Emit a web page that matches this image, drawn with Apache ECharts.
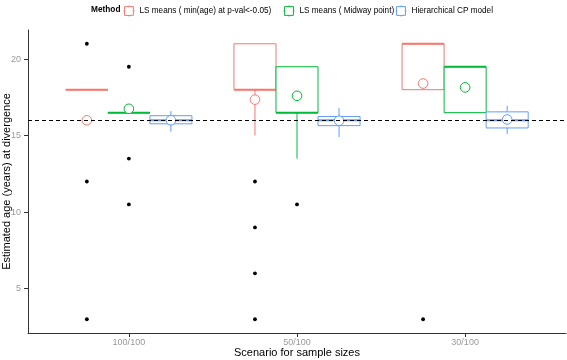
<!DOCTYPE html>
<html>
<head>
<meta charset="utf-8">
<script src="https://cdn.jsdelivr.net/npm/echarts@6/dist/echarts.min.js"></script>
<style>
html, body { margin: 0; padding: 0; background: #fff; }
#main { width: 567px; height: 360px; }
</style>
</head>
<body>
<div id="main"></div>
<script>
var categories = ['100/100', '50/100', '30/100'];
var methodNames = ['LS means ( min(age) at p-val<-0.05)', 'LS means ( Midway point)', 'Hierarchical CP model'];
var methodColors = ['#F8766D', '#00BA38', '#619CFF'];
var yTicks = [5, 10, 15, 20];
var refAge = 16;

// box stats per scenario: [min, q1, median, q3, max]
var lsMinStats = [[18, 18, 18, 18, 18], [15, 18, 18, 21, 21], [18, 18, 21, 21, 21]];
var lsMidStats = [[16.5, 16.5, 16.5, 16.5, 16.5], [13.5, 16.5, 16.5, 19.5, 19.5], [16.5, 16.5, 19.5, 19.5, 19.5]];
var hcpStats = [[15.25, 15.77, 16, 16.3, 16.6], [14.9, 15.65, 16, 16.25, 16.8], [15.1, 15.5, 16, 16.55, 16.95]];

// means per scenario
var lsMinMeans = [16.0, 17.35, 18.4];
var lsMidMeans = [16.75, 17.6, 18.15];
var hcpMeans = [16.0, 15.97, 16.05];

// outliers per scenario
var lsMinOutliers = [[21, 12, 3], [12, 9, 6, 3], [3]];
var lsMidOutliers = [[19.5, 13.5, 10.5], [10.5], []];
var hcpOutliers = [[], [], []];

var chartDom = document.getElementById('main');
var myChart = echarts.init(chartDom);
var option;

var font = 'Liberation Sans';
var slotWidth = 0.25;

function boxData(stats, means) {
    return categories.map(function (c, i) {
        return [i + 1].concat(stats[i], [means[i]]);
    });
}

function outlierData(outliers) {
    var out = [];
    outliers.forEach(function (vals, i) {
        vals.forEach(function (v) { out.push([i + 1, v]); });
    });
    return out;
}

function boxRenderer(slot, color) {
    return function (params, api) {
        var x = api.value(0) + slot * slotWidth;
        var w = api.size([slotWidth, 0])[0];
        var pMin = api.coord([x, api.value(1)]);
        var pQ1 = api.coord([x, api.value(2)]);
        var pMed = api.coord([x, api.value(3)]);
        var pQ3 = api.coord([x, api.value(4)]);
        var pMax = api.coord([x, api.value(5)]);
        var pMean = api.coord([x, api.value(6)]);
        var cx = pMed[0];
        var left = cx - w / 2;
        var thin = { stroke: color, lineWidth: 1 };
        return {
            type: 'group',
            children: [
                { type: 'line', shape: { x1: cx, y1: pQ3[1], x2: cx, y2: pMax[1] }, style: thin },
                { type: 'line', shape: { x1: cx, y1: pQ1[1], x2: cx, y2: pMin[1] }, style: thin },
                { type: 'rect', shape: { x: left, y: pQ3[1], width: w, height: pQ1[1] - pQ3[1] }, style: { fill: '#fff', stroke: color, lineWidth: 1 } },
                { type: 'line', shape: { x1: left, y1: pMed[1], x2: left + w, y2: pMed[1] }, style: { stroke: color, lineWidth: 2 } },
                { type: 'circle', shape: { cx: cx, cy: pMean[1], r: 4.8 }, style: { fill: '#fff', stroke: color, lineWidth: 1 } }
            ]
        };
    };
}

function outlierRenderer(slot) {
    return function (params, api) {
        var p = api.coord([api.value(0) + slot * slotWidth, api.value(1)]);
        return { type: 'circle', shape: { cx: p[0], cy: p[1], r: 1.9 }, style: { fill: '#000' } };
    };
}

var allStats = [lsMinStats, lsMidStats, hcpStats];
var allMeans = [lsMinMeans, lsMidMeans, hcpMeans];
var allOutliers = [lsMinOutliers, lsMidOutliers, hcpOutliers];
var legendLefts = [123, 283, 395];
var legendIcon = 'path://M2,2H18V18H2Z M10,0V2 M10,18V20 M0,10H2 M18,10H20';

var series = [];
var legends = [];
methodNames.forEach(function (name, k) {
    series.push({
        name: name,
        type: 'custom',
        renderItem: boxRenderer(k - 1, methodColors[k]),
        itemStyle: { color: methodColors[k] },
        encode: { x: 0, y: [1, 2, 3, 4, 5, 6] },
        data: boxData(allStats[k], allMeans[k]),
        z: 2
    });
    series.push({
        name: name + ' outliers',
        type: 'custom',
        renderItem: outlierRenderer(k - 1),
        encode: { x: 0, y: 1 },
        data: outlierData(allOutliers[k]),
        z: 3
    });
    legends.push({
        left: legendLefts[k],
        top: 5,
        padding: 0,
        itemWidth: 11,
        itemHeight: 11,
        itemGap: 4,
        selectedMode: false,
        textStyle: { fontFamily: font, fontSize: 8.2, color: '#000' },
        data: [{
            name: name,
            icon: legendIcon,
            itemStyle: { color: '#fff', borderColor: methodColors[k], borderWidth: 1 }
        }]
    });
});

// dashed reference line
series.push({
    type: 'line',
    data: [],
    z: 10,
    markLine: {
        silent: true,
        symbol: ['none', 'none'],
        label: { show: false },
        lineStyle: { color: '#000', type: [4, 3], width: 1 },
        data: [{ yAxis: refAge }]
    }
});

option = {
    backgroundColor: '#fff',
    animation: false,
    grid: { left: 28, right: 1, top: 30, bottom: 27, containLabel: false, outerBoundsMode: 'none' },
    graphic: [{
        type: 'text',
        left: 91,
        top: 6,
        style: { text: 'Method', font: 'bold 8.3px "Liberation Sans"', fill: '#000' }
    }],
    legend: legends,
    xAxis: {
        type: 'value',
        min: 0.4,
        max: 3.6,
        name: 'Scenario for sample sizes',
        nameLocation: 'middle',
        nameGap: 14,
        nameMoveOverlap: false,
        nameTextStyle: { fontFamily: font, fontSize: 11, color: '#000' },
        splitLine: { show: false },
        axisLine: { show: true, lineStyle: { color: '#333', width: 1 } },
        axisTick: { show: true, length: 4, customValues: [1, 2, 3], lineStyle: { color: '#333' } },
        axisLabel: {
            margin: 5,
            fontFamily: font,
            fontSize: 9,
            color: '#999',
            customValues: [1, 2, 3],
            formatter: function (v) { return categories[v - 1]; }
        }
    },
    yAxis: {
        type: 'value',
        min: 2.1,
        max: 21.9,
        name: 'Estimated age (years) at divergence',
        nameLocation: 'middle',
        nameGap: 16,
        nameMoveOverlap: false,
        nameTextStyle: { fontFamily: font, fontSize: 11, color: '#000' },
        splitLine: { show: false },
        axisLine: { show: true, lineStyle: { color: '#333', width: 1 } },
        axisTick: { show: true, length: 4, customValues: yTicks, lineStyle: { color: '#333' } },
        axisLabel: { margin: 7, fontFamily: font, fontSize: 9, color: '#999', customValues: yTicks }
    },
    series: series
};

option && myChart.setOption(option);
</script>
</body>
</html>
